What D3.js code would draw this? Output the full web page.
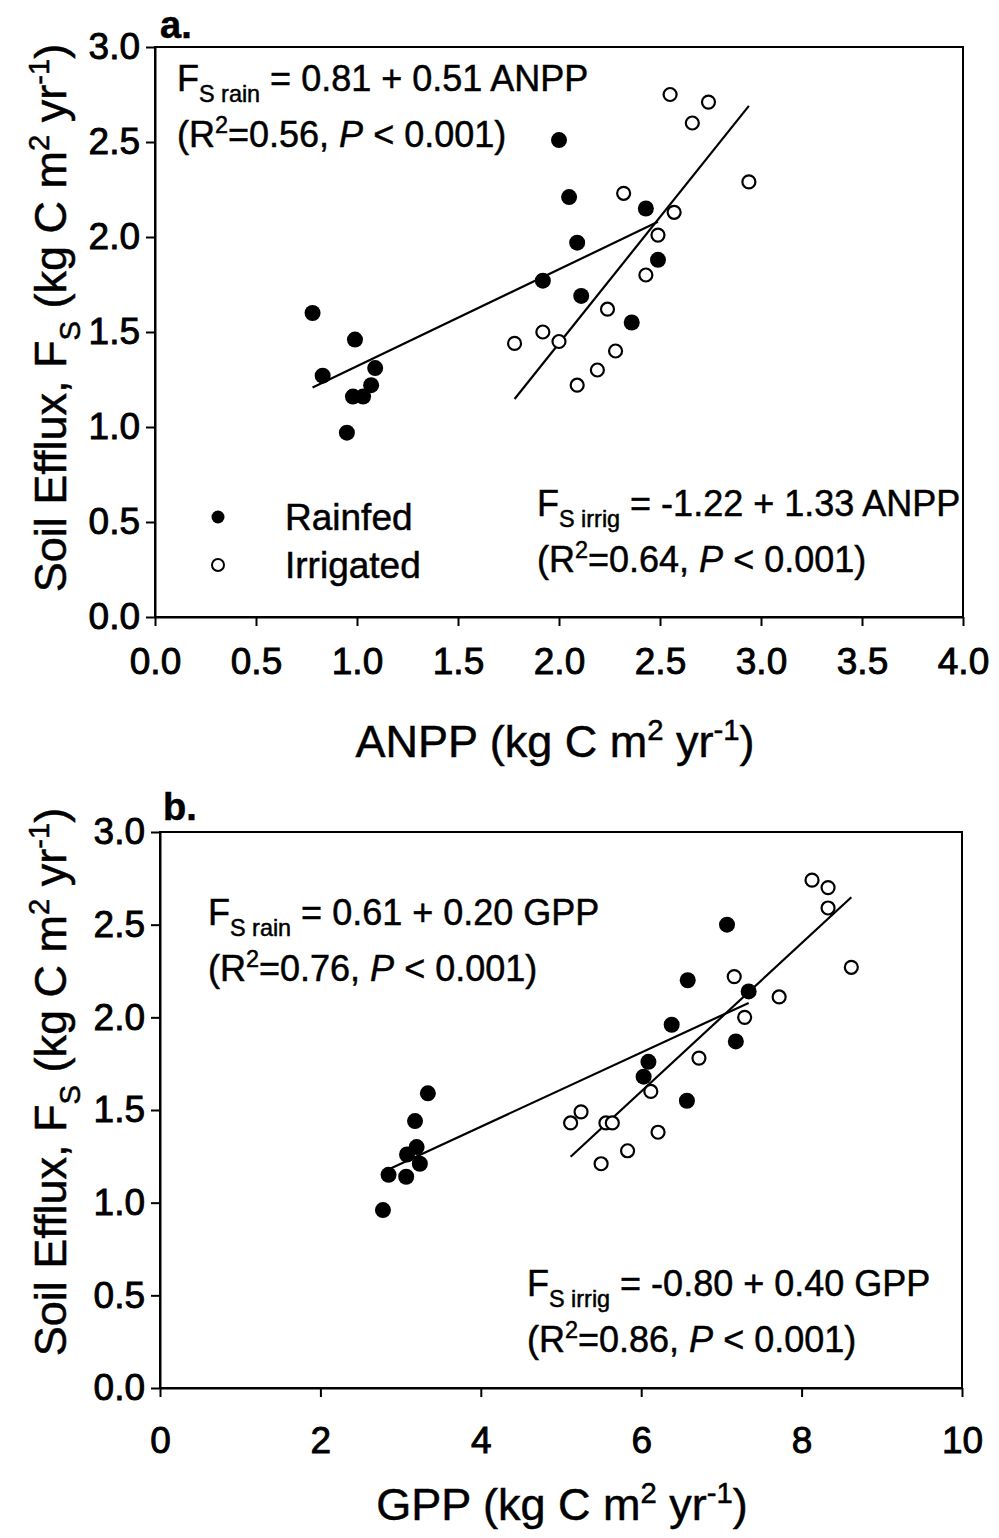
<!DOCTYPE html>
<meta charset="utf-8">
<style>
    body {
        margin: 0;
        background: #fff;
    }

    svg {
        font-family: "Liberation Sans", Arial, sans-serif;
    }

    svg text {
        fill: black;
        stroke: black;
        stroke-width: 0.5;
    }

    .axis path,
    .axis line {
        fill: none;
        stroke: black;
        stroke-width: 2;
    }

    .axis text {
        font-size: 37px;
        stroke-width: 0.9;
    }
</style>
<body>
<script src="https://cdn.jsdelivr.net/npm/d3@7"></script>
<script>
    // ---- data ----
    // panel a: ANPP vs soil efflux
    const anppRainfed = [
        [0.78, 1.60], [0.83, 1.27], [0.95, 0.97], [0.98, 1.16], [0.99, 1.46],
        [1.03, 1.16], [1.07, 1.22], [1.09, 1.31], [1.92, 1.77], [2.00, 2.51],
        [2.05, 2.21], [2.09, 1.97], [2.11, 1.69], [2.36, 1.55], [2.43, 2.15],
        [2.49, 1.88]
    ];
    const anppIrrigated = [
        [1.78, 1.44], [1.92, 1.50], [2.00, 1.45], [2.09, 1.22], [2.19, 1.30],
        [2.24, 1.62], [2.28, 1.40], [2.32, 2.23], [2.43, 1.80], [2.49, 2.01],
        [2.57, 2.13], [2.55, 2.75], [2.66, 2.60], [2.74, 2.71], [2.94, 2.29]
    ];
    // panel b: GPP vs soil efflux
    const gppRainfed = [
        [2.78, 0.96], [2.85, 1.15], [3.07, 1.14], [3.08, 1.26], [3.20, 1.30],
        [3.24, 1.21], [3.18, 1.44], [3.34, 1.59], [6.03, 1.68], [6.09, 1.76],
        [6.38, 1.96], [6.58, 2.20], [7.07, 2.50], [6.57, 1.55], [7.34, 2.14],
        [7.18, 1.87]
    ];
    const gppIrrigated = [
        [8.13, 2.74], [8.33, 2.70], [8.33, 2.59], [8.62, 2.27], [7.16, 2.22],
        [7.72, 2.11], [7.29, 2.00], [6.72, 1.78], [6.12, 1.60], [5.25, 1.49],
        [5.12, 1.43], [5.56, 1.43], [5.64, 1.43], [6.21, 1.38], [5.83, 1.28],
        [5.50, 1.21]
    ];

    // regression fits: [intercept, slope]
    const anppFitRain = [0.81, 0.51];
    const anppFitIrrig = [-1.22, 1.33];
    const gppFitRain = [0.61, 0.20];
    const gppFitIrrig = [-0.80, 0.40];

    // tick values
    const yTicks = [0.0, 0.5, 1.0, 1.5, 2.0, 2.5, 3.0];
    const anppTicks = [0.0, 0.5, 1.0, 1.5, 2.0, 2.5, 3.0, 3.5, 4.0];
    const gppTicks = [0, 2, 4, 6, 8, 10];

    const W = 999, H = 1538;

    const svg = d3.select('body')
        .append('svg')
        .attr('width', W)
        .attr('height', H);

    // adds a text with sub/superscripts; parts = [[text, 'n'|'sub'|'sup'|'i'], ...]
    function richText(g, parts, size) {
        let shift = 0;
        parts.forEach(p => {
            const t = g.append('tspan').text(p[0]);
            let target = 0;
            if (p[1] === 'sub') target = size * 0.3;
            if (p[1] === 'sup') target = -size * 0.38;
            t.attr('dy', target - shift);
            shift = target;
            if (p[1] === 'sub' || p[1] === 'sup') t.style('font-size', (size * 0.65) + 'px');
            if (p[1] === 'i') t.style('font-style', 'italic');
        });
    }

    function drawPanel(cfg) {
        const x = d3.scaleLinear().domain(cfg.xDomain).range([cfg.left, cfg.right]);
        const y = d3.scaleLinear().domain([0, 3]).range([cfg.bottom, cfg.top]);
        const g = svg.append('g').attr('class', 'panel');

        // frame
        g.append('rect')
            .attr('x', cfg.left).attr('y', cfg.top)
            .attr('width', cfg.right - cfg.left).attr('height', cfg.bottom - cfg.top)
            .style('fill', 'none').style('stroke', 'black').style('stroke-width', 2);

        g.append('g')
            .attr('class', 'axis')
            .attr('transform', 'translate(0,' + cfg.bottom + ')')
            .call(d3.axisBottom(x).tickValues(cfg.xTicks).tickFormat(cfg.xFormat)
                .tickSize(9).tickSizeOuter(0).tickPadding(cfg.xPad));

        g.append('g')
            .attr('class', 'axis')
            .attr('transform', 'translate(' + cfg.left + ',0)')
            .call(d3.axisLeft(y).tickValues(yTicks).tickFormat(d3.format('.1f'))
                .tickSize(9).tickSizeOuter(0).tickPadding(6));

        // fit lines over the x-range of each group
        [[cfg.rain, cfg.fitRain], [cfg.irrig, cfg.fitIrrig]].forEach(([pts, fit]) => {
            const ext = d3.extent(pts, d => d[0]);
            g.append('path')
                .datum(ext.map(v => [v, fit[0] + fit[1] * v]))
                .attr('d', d3.line().x(d => x(d[0])).y(d => y(d[1])))
                .style('fill', 'none').style('stroke', 'black').style('stroke-width', 2.2);
        });

        g.selectAll('.open')
            .data(cfg.irrig)
            .enter().append('circle')
            .attr('class', 'open')
            .attr('cx', d => x(d[0])).attr('cy', d => y(d[1]))
            .attr('r', 6.5)
            .style('fill', 'white').style('stroke', 'black').style('stroke-width', 2.2);

        g.selectAll('.dot')
            .data(cfg.rain)
            .enter().append('circle')
            .attr('class', 'dot')
            .attr('cx', d => x(d[0])).attr('cy', d => y(d[1]))
            .attr('r', 8)
            .style('fill', 'black');

        // equations
        cfg.eqs.forEach(e => {
            e.lines.forEach((parts, i) => {
                const t = g.append('text')
                    .attr('x', e.x).attr('y', e.y + i * 56)
                    .style('font-size', '36px');
                richText(t, parts, 36);
            });
        });

        // panel letter
        g.append('text')
            .attr('x', cfg.letter[0]).attr('y', cfg.letter[1])
            .style('font-size', '38px').style('font-weight', 'bold')
            .text(cfg.letter[2]);

        // x title
        const xt = g.append('text')
            .attr('x', cfg.xTitle[0]).attr('y', cfg.xTitle[1])
            .attr('text-anchor', 'middle')
            .style('font-size', '45px');
        richText(xt, [[cfg.xName + ' (kg C m', 'n'], ['2', 'sup'], [' yr', 'n'], ['-1', 'sup'], [')', 'n']], 45);

        // y title
        const yt = g.append('text')
            .attr('transform', 'translate(' + cfg.yTitle[0] + ',' + cfg.yTitle[1] + ') rotate(-90)')
            .attr('text-anchor', 'middle')
            .style('font-size', '45px');
        richText(yt, [['Soil Efflux, F', 'n'], ['S', 'sub'], [' (kg C m', 'n'], ['2', 'sup'], [' yr', 'n'], ['-1', 'sup'], [')', 'n']], 45);

        return {x, y, g};
    }

    const pa = drawPanel({
        left: 155, right: 963, top: 47, bottom: 617,
        xDomain: [0, 4], xTicks: anppTicks, xFormat: d3.format('.1f'), xPad: 22,
        rain: anppRainfed, irrig: anppIrrigated,
        fitRain: anppFitRain, fitIrrig: anppFitIrrig,
        letter: [160, 38, 'a.'],
        xName: 'ANPP', xTitle: [555, 757], yTitle: [66, 318],
        eqs: [
            {x: 177, y: 91, lines: [
                [['F', 'n'], ['S rain', 'sub'], [' = 0.81 + 0.51 ANPP', 'n']],
                [['(R', 'n'], ['2', 'sup'], ['=0.56, ', 'n'], ['P', 'i'], [' < 0.001)', 'n']]
            ]},
            {x: 537, y: 516, lines: [
                [['F', 'n'], ['S irrig', 'sub'], [' = -1.22 + 1.33 ANPP', 'n']],
                [['(R', 'n'], ['2', 'sup'], ['=0.64, ', 'n'], ['P', 'i'], [' < 0.001)', 'n']]
            ]}
        ]
    });

    // legend (panel a)
    const legend = pa.g.append('g').attr('class', 'legend');
    legend.append('circle').attr('cx', 218).attr('cy', 517).attr('r', 6.5).style('fill', 'black');
    legend.append('circle').attr('cx', 218).attr('cy', 565).attr('r', 6)
        .style('fill', 'white').style('stroke', 'black').style('stroke-width', 2);
    legend.append('text').attr('x', 285).attr('y', 530).style('font-size', '37px').text('Rainfed');
    legend.append('text').attr('x', 285).attr('y', 578).style('font-size', '37px').text('Irrigated');

    drawPanel({
        left: 160, right: 962, top: 832, bottom: 1388,
        xDomain: [0, 10], xTicks: gppTicks, xFormat: d3.format('d'), xPad: 30,
        rain: gppRainfed, irrig: gppIrrigated,
        fitRain: gppFitRain, fitIrrig: gppFitIrrig,
        letter: [163, 820, 'b.'],
        xName: 'GPP', xTitle: [562, 1520], yTitle: [66, 1082],
        eqs: [
            {x: 208, y: 925, lines: [
                [['F', 'n'], ['S rain', 'sub'], [' = 0.61 + 0.20 GPP', 'n']],
                [['(R', 'n'], ['2', 'sup'], ['=0.76, ', 'n'], ['P', 'i'], [' < 0.001)', 'n']]
            ]},
            {x: 527, y: 1296, lines: [
                [['F', 'n'], ['S irrig', 'sub'], [' = -0.80 + 0.40 GPP', 'n']],
                [['(R', 'n'], ['2', 'sup'], ['=0.86, ', 'n'], ['P', 'i'], [' < 0.001)', 'n']]
            ]}
        ]
    });
</script>
</body>
</html>
